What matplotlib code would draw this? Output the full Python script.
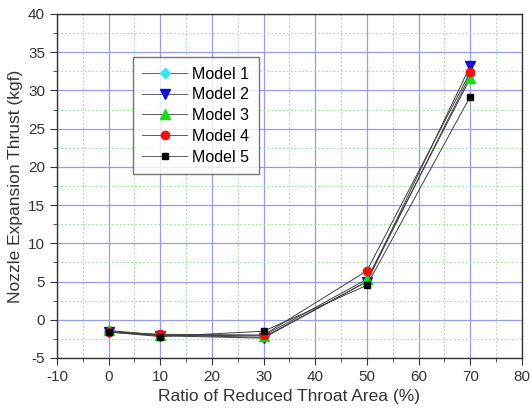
import matplotlib
matplotlib.use("Agg")
import matplotlib.pyplot as plt
from matplotlib.ticker import MultipleLocator

plt.rcParams['font.family'] = ['Liberation Sans', 'DejaVu Sans']
plt.rcParams['axes.unicode_minus'] = False

x = [0, 10, 30, 50, 70]
model1 = [-1.5, -2.0, -2.3, 5.0, 32.0]
model2 = [-1.6, -2.1, -2.4, 5.0, 33.2]
model3 = [-1.4, -2.0, -2.1, 5.3, 31.6]
model4 = [-1.6, -1.9, -2.0, 6.4, 32.4]
model5 = [-1.6, -2.2, -1.5, 4.5, 29.2]

series = [
    ("Model 1", model1, "D", "#33e6f0", 5),
    ("Model 2", model2, "v", "#1010d0", 7),
    ("Model 3", model3, "^", "#10e010", 7),
    ("Model 4", model4, "o", "#ee1111", 6),
    ("Model 5", model5, "s", "#000000", 5),
]

fig = plt.figure(figsize=(5.32, 4.11), dpi=100)
ax = fig.add_axes([0.107, 0.129, 0.874, 0.837])

for name, vals, m, c, ms in series:
    ax.plot(x, vals, color="#404040", lw=0.7, marker=m, markersize=ms,
            markerfacecolor=c, markeredgecolor=c, label=name)

ax.set_xlim(-10, 80)
ax.set_ylim(-5, 40)
ax.xaxis.set_major_locator(MultipleLocator(10))
ax.xaxis.set_minor_locator(MultipleLocator(5))
ax.yaxis.set_major_locator(MultipleLocator(5))
ax.yaxis.set_minor_locator(MultipleLocator(2.5))
ax.grid(which="major", color="#9a9ae8", lw=0.9, ls="-")
ax.grid(which="minor", color="#99e099", lw=0.8, ls=(0, (1.5, 2)))
ax.set_axisbelow(True)
ax.tick_params(which="major", direction="out", length=5, labelsize=11, color="#333333")
ax.tick_params(which="minor", direction="out", length=3, color="#333333")
for s in ax.spines.values():
    s.set_color("#333333")
    s.set_linewidth(1.0)

ax.set_xlabel("Ratio of Reduced Throat Area (%)", fontsize=12.5, color="#333333")
ax.set_ylabel("Nozzle Expansion Thrust (kgf)", fontsize=12.5, color="#333333")
for lbl in ax.get_xticklabels() + ax.get_yticklabels():
    lbl.set_color("#333333")

leg = ax.legend(loc="upper left", bbox_to_anchor=(0.163, 0.875), borderaxespad=0,
                fontsize=11.5, frameon=True, fancybox=False, edgecolor="#555555",
                handlelength=2.8, borderpad=0.6, labelspacing=0.36,
                handletextpad=0.3)
leg.get_frame().set_linewidth(1.0)
for h in leg.legend_handles:
    h.set_color("#606060")

fig.savefig("out.png", dpi=100)
